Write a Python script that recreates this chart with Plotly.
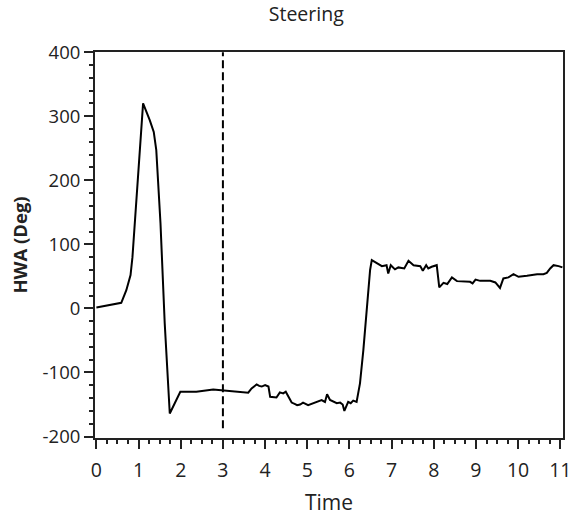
import plotly.graph_objects as go

# Hand-wheel angle trace (time in s, angle in deg)
time_s = [0.00, 0.30, 0.59, 0.71, 0.81, 0.855, 1.107, 1.265, 1.36, 1.42, 1.52, 1.62,
          1.74, 1.99, 2.37, 2.77, 2.97, 3.24, 3.60, 3.68, 3.80, 3.86, 3.92, 4.00,
          4.08, 4.12, 4.27, 4.35, 4.43, 4.49, 4.55, 4.63, 4.70, 4.76, 4.83, 4.90,
          5.02, 5.10, 5.18, 5.34, 5.42, 5.47, 5.54, 5.62, 5.70, 5.78, 5.84, 5.88,
          5.97, 6.03, 6.09, 6.17, 6.21, 6.25, 6.33, 6.41, 6.49, 6.53, 6.65, 6.77,
          6.88, 6.92, 6.98, 7.08, 7.16, 7.30, 7.40, 7.52, 7.68, 7.74, 7.82, 7.87,
          7.95, 8.07, 8.13, 8.23, 8.32, 8.43, 8.55, 8.70, 8.86, 8.92, 8.99, 9.10,
          9.34, 9.46, 9.57, 9.65, 9.77, 9.89, 10.01, 10.21, 10.45, 10.60, 10.68,
          10.76, 10.84, 10.96, 11.05]
hwa_deg = [1.5, 5, 8.7, 28.5, 52, 80, 320, 294, 275.5, 247, 132.6, -23,
           -164, -130, -130, -126.5, -127.5, -129, -131.6, -124.8, -118.6, -121, -122, -119.6,
           -122, -138, -139, -131, -132.6, -130, -138, -147, -149, -151, -150, -147,
           -151, -149, -147, -143, -146, -134, -143, -146, -148, -147, -150, -160,
           -146, -148, -144, -146, -132.6, -117, -65, -2.6, 60, 75.4, 70, 66,
           67.5, 54.6, 67.5, 61, 64, 62.4, 74.3, 67.5, 66, 58.7, 67.5, 62.4,
           65, 67.5, 32.8, 40, 38, 48.4, 42.6, 42, 41.5, 39, 45, 43,
           43, 40.5, 32, 46.8, 48.4, 53.5, 49.3, 50.9, 53.5, 53.5, 55.5,
           62.4, 67.5, 66, 64]

marker_time = 3
x_ticks = list(range(0, 12))
y_ticks = [-200, -100, 0, 100, 200, 300, 400]
y_tick_labels = [str(v) for v in y_ticks]

fig = go.Figure()
fig.add_trace(go.Scatter(x=time_s, y=hwa_deg, mode="lines",
                         line=dict(color="black", width=2), showlegend=False))

# Dashed marker at t = 3 s
fig.add_shape(type="line", x0=marker_time, x1=marker_time, y0=-187, y1=400,
              xref="x", yref="y", line=dict(color="black", width=2, dash="8px,4px"))

fig.update_layout(
    width=580, height=516,
    margin=dict(l=95, r=17, t=52, b=78),
    paper_bgcolor="white", plot_bgcolor="white",
    font=dict(family="Open Sans", color="#222"),
    title=dict(text="Steering", x=0.528, xanchor="center", y=0.972, yanchor="middle",
               font=dict(size=19.5, color="#222")),
)
fig.update_xaxes(
    range=[-0.033, 11.064], tickvals=x_ticks, ticks="outside", ticklen=9, tickwidth=2,
    tickcolor="#222", showgrid=False, zeroline=False, showline=True, linecolor="#222",
    linewidth=2, mirror=True, tickfont=dict(size=19.5), ticklabelstandoff=5,
    minor=dict(dtick=0.25, tick0=0, ticks="outside", ticklen=4, tickwidth=2, tickcolor="#222"),
    title=dict(text="Time", font=dict(size=21), standoff=14), automargin=False,
)
fig.update_yaxes(
    range=[-202.3, 400.3], tickvals=y_ticks, ticktext=y_tick_labels, ticks="outside",
    ticklen=9, tickwidth=2,
    tickcolor="#222", showgrid=False, zeroline=False, showline=True, linecolor="#222",
    linewidth=2, mirror=True, tickfont=dict(size=18.5),
    minor=dict(dtick=20, tick0=0, ticks="outside", ticklen=4, tickwidth=2, tickcolor="#222"),
    title=dict(text="<b>HWA (Deg)</b>", font=dict(size=18.5), standoff=10), automargin=False,
)

fig.write_html("out.html")
